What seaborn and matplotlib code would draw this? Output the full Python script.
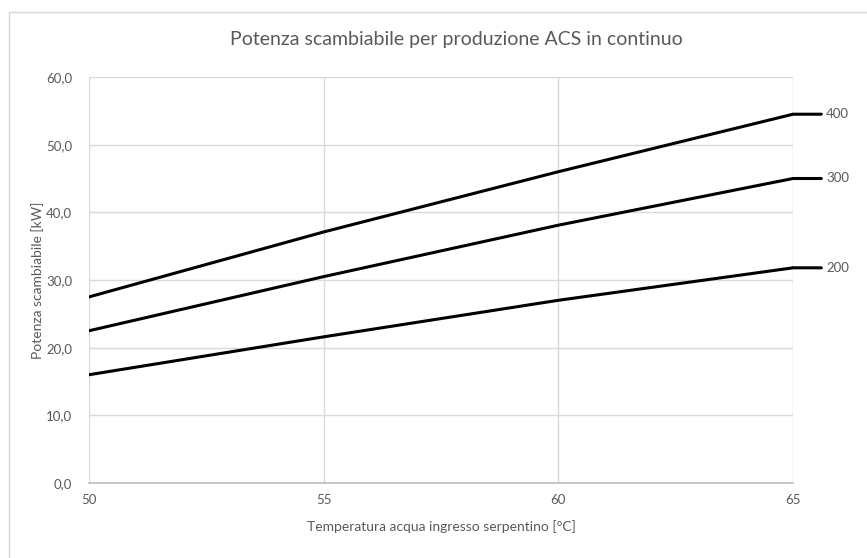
import matplotlib
matplotlib.use("Agg")
import matplotlib.pyplot as plt
import seaborn as sns
import pandas as pd

temperature = [50, 55, 60, 65]
serie_200 = [16.0, 21.6, 27.0, 31.8]
serie_300 = [22.5, 30.5, 38.1, 45.0]
serie_400 = [27.5, 37.1, 46.0, 54.5]
series_labels = ["200", "300", "400"]
x_ticks = [50, 55, 60, 65]
y_ticks = [0, 10, 20, 30, 40, 50, 60]

title = "Potenza scambiabile per produzione ACS in continuo"
xlabel = "Temperatura acqua ingresso serpentino [°C]"
ylabel = "Potenza scambiabile [kW]"

rows = []
for lab, vals in zip(series_labels, [serie_200, serie_300, serie_400]):
    for t, v in zip(temperature, vals):
        rows.append({"T": t, "P": v, "serie": lab})
df = pd.DataFrame(rows)

sns.set_theme(style="white")
plt.rcParams["font.family"] = ["Lato", "DejaVu Sans"]

text_col = "#595959"
grid_col = "#d9d9d9"

fig = plt.figure(figsize=(8.67, 5.58), dpi=100)
ax = fig.add_axes([89/867, 1-483/558, (793-89)/867, (483-77)/558])

sns.lineplot(data=df, x="T", y="P", hue="serie", palette=["black"]*3,
             linewidth=2.2, legend=False, ax=ax)

ax.set_xlim(50, 65)
ax.set_ylim(0, 60)
ax.set_xticks(x_ticks)
ax.set_xticklabels([str(v) for v in x_ticks])
ax.set_yticks(y_ticks)
ax.set_yticklabels([f"{v:.1f}".replace(".", ",") for v in y_ticks])
ax.grid(True, color=grid_col, linewidth=1)
ax.set_axisbelow(True)
for s in ax.spines.values():
    s.set_visible(False)
ax.spines["bottom"].set_visible(True)
ax.spines["bottom"].set_color("#bfbfbf")
ax.tick_params(axis="both", length=0, labelsize=9.5, colors=text_col)
ax.tick_params(axis="y", pad=12)
ax.tick_params(axis="x", pad=8)

ax.set_xlabel(xlabel, fontsize=10, color=text_col, labelpad=10)
ax.set_ylabel(ylabel, fontsize=10, color=text_col)
ax.yaxis.set_label_coords((44-89)/704, 0.5)
fig.text(0.526, 1-40/558, title, ha="center", va="center", fontsize=14, color=text_col)

for lab, vals in zip(series_labels, [serie_200, serie_300, serie_400]):
    ax.annotate(lab, xy=(temperature[-1], vals[-1]), xytext=(33, 0),
                textcoords="offset pixels", va="center", ha="left",
                fontsize=9.5, color=text_col, annotation_clip=False,
                arrowprops=dict(arrowstyle="-", color="black", lw=2.2,
                                shrinkA=1, shrinkB=0))

# chart border (left and top visible)
fig.add_artist(plt.Line2D([9/867, 9/867], [0, 1-12/558], transform=fig.transFigure,
                          color="#d9d9d9", lw=1))
fig.add_artist(plt.Line2D([9/867, 1], [1-12/558, 1-12/558], transform=fig.transFigure,
                          color="#d9d9d9", lw=1))

fig.savefig("out.png", dpi=100, facecolor="white")
